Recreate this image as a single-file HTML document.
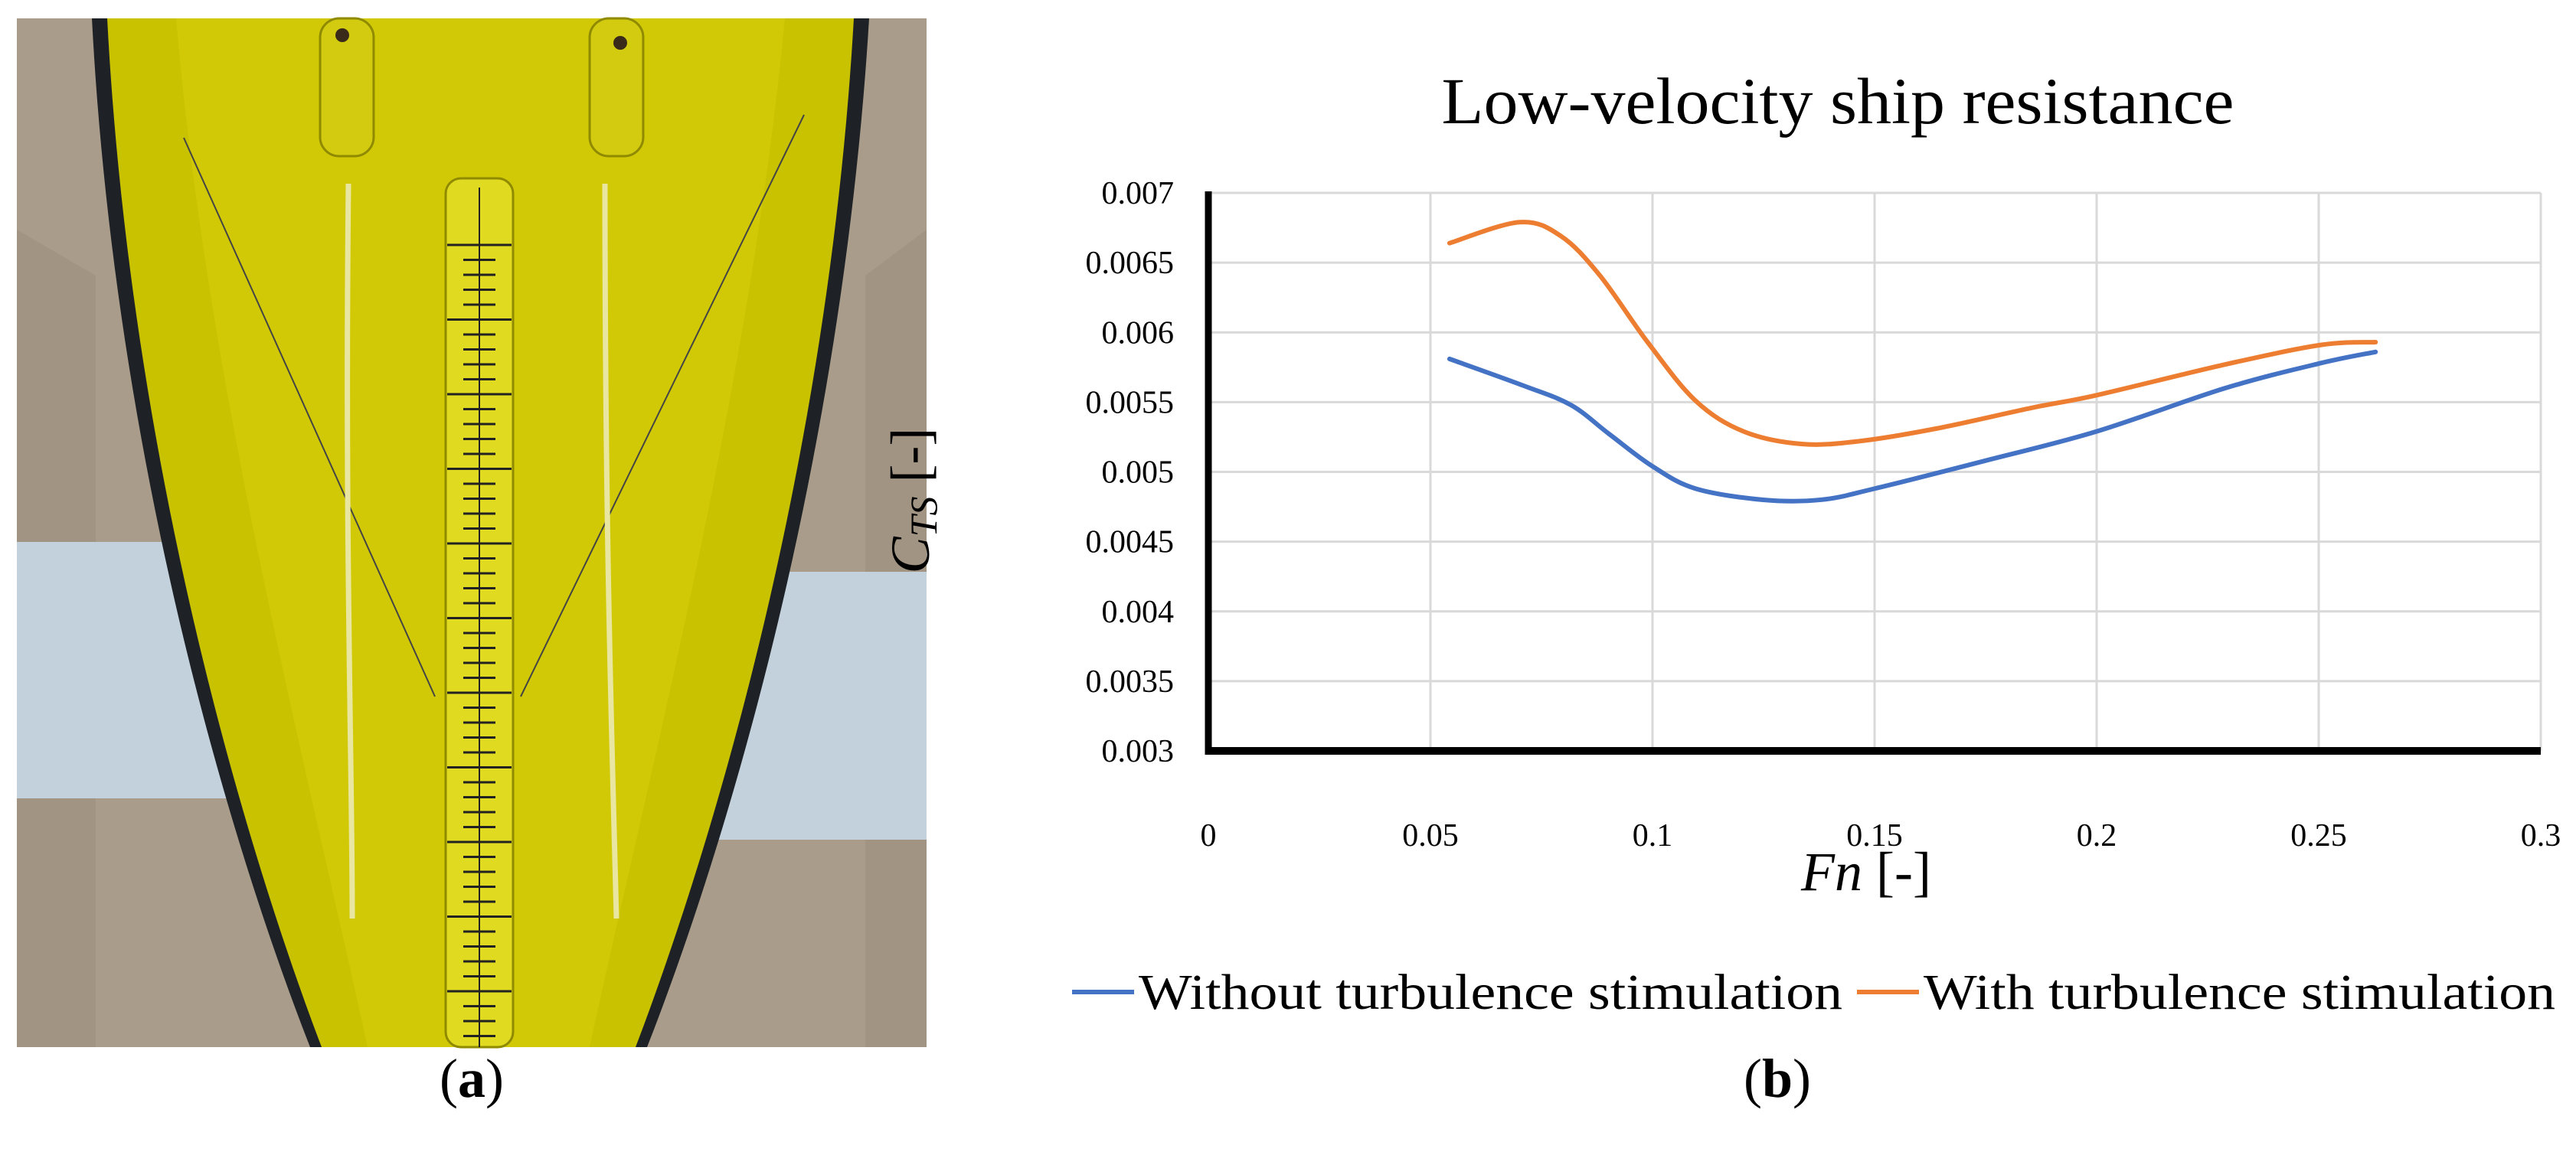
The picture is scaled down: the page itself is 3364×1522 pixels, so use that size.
<!DOCTYPE html>
<html><head><meta charset="utf-8">
<style>
html,body{margin:0;padding:0;background:#fff;}
svg{display:block;}
text{font-family:"Liberation Serif",serif;fill:#000;}
</style></head>
<body>
<svg width="3364" height="1522" viewBox="0 0 3364 1522" xmlns="http://www.w3.org/2000/svg">
<g>
  <rect x="22" y="24" width="1188" height="1344" fill="#a99c8a"/>
  <path d="M22 300 L125 360 L125 1368 L22 1368Z" fill="#9c8f7e" opacity="0.6"/>
  <path d="M1210 300 L1130 360 L1130 1368 L1210 1368Z" fill="#9c8f7e" opacity="0.6"/>
  <rect x="22" y="708" width="420" height="335" fill="#c3d1dd"/>
  <rect x="800" y="747" width="410" height="350" fill="#c3d1dd"/>
  <path d="M120 24 C150 600 300 1100 405 1368 L845 1368 C950 1100 1100 600 1135 24Z" fill="#1e2226"/>
  <path d="M140 24 C170 600 318 1100 420 1368 L830 1368 C932 1100 1082 600 1115 24Z" fill="#c8c200"/>
  <path d="M230 24 C270 500 400 1000 480 1368 L770 1368 C850 1000 980 500 1025 24Z" fill="#d4cc08" opacity="0.7"/>
  <path d="M240 180 L568 910 M1050 150 L680 910" stroke="#444" stroke-width="2" fill="none"/>
  <path d="M455 240 C450 700 460 1000 460 1200 M790 240 C790 700 800 1000 805 1200" stroke="#e8e6a0" stroke-width="7" fill="none"/>
  <rect x="418" y="24" width="70" height="180" rx="25" fill="#d2cb10" stroke="#8f8a00" stroke-width="3"/>
  <rect x="770" y="24" width="70" height="180" rx="25" fill="#d2cb10" stroke="#8f8a00" stroke-width="3"/>
  <circle cx="447" cy="46" r="9" fill="#3a2a1a"/><circle cx="810" cy="56" r="9" fill="#3a2a1a"/>
  <rect x="582" y="233" width="88" height="1135" rx="20" fill="#e0da20" stroke="#8f8a00" stroke-width="3"/>
  <g id="ruler-ticks"></g>
</g>
<text x="616" y="1433" font-size="72" text-anchor="middle">(<tspan font-weight="bold">a</tspan>)</text>

<g id="chart"></g>
<text x="2400" y="161" font-size="86" text-anchor="middle" textLength="1035" lengthAdjust="spacingAndGlyphs">Low-velocity ship resistance</text>
<text transform="translate(1213,654) rotate(-90)" font-size="72" text-anchor="middle"><tspan font-style="italic">C</tspan><tspan font-style="italic" font-size="50" dy="10">TS</tspan><tspan dy="-10"> [-]</tspan></text>
<text x="2437" y="1163" font-size="72" text-anchor="middle"><tspan font-style="italic">Fn</tspan> [-]</text>
<g>
  <line x1="1400" y1="1296" x2="1481" y2="1296" stroke="#4472c4" stroke-width="6"/>
  <text x="1487" y="1318" font-size="66" textLength="919" lengthAdjust="spacingAndGlyphs">Without turbulence stimulation</text>
  <line x1="2425" y1="1296" x2="2506" y2="1296" stroke="#ed7d31" stroke-width="6"/>
  <text x="2512" y="1318" font-size="66" textLength="825" lengthAdjust="spacingAndGlyphs">With turbulence stimulation</text>
</g>
<text x="2321" y="1433" font-size="72" text-anchor="middle">(<tspan font-weight="bold">b</tspan>)</text>
</svg>
<script>
const xTicks = [0, 0.05, 0.1, 0.15, 0.2, 0.25, 0.3];
const xTickLabels = ["0", "0.05", "0.1", "0.15", "0.2", "0.25", "0.3"];
const yTicks = [0.003, 0.0035, 0.004, 0.0045, 0.005, 0.0055, 0.006, 0.0065, 0.007];
const yTickLabels = ["0.003", "0.0035", "0.004", "0.0045", "0.005", "0.0055", "0.006", "0.0065", "0.007"];
const fnWithout = [0.0543, 0.0708, 0.0816, 0.0903, 0.1, 0.1097, 0.1249, 0.1379, 0.15, 0.1749, 0.2, 0.2289, 0.2505, 0.2628];
const ctsWithout = [0.00581, 0.00562, 0.00548, 0.00527, 0.00504, 0.00488, 0.00480, 0.00480, 0.00488, 0.00508, 0.00529, 0.00560, 0.00578, 0.00586];
const fnWith = [0.0543, 0.0701, 0.0794, 0.0881, 0.0989, 0.1097, 0.1205, 0.1335, 0.1465, 0.1638, 0.1855, 0.2, 0.2289, 0.2505, 0.2628];
const ctsWith = [0.00664, 0.00679, 0.00669, 0.00641, 0.00593, 0.00551, 0.00529, 0.00520, 0.00522, 0.00531, 0.00546, 0.00555, 0.00577, 0.00591, 0.00593];

const NS = "http://www.w3.org/2000/svg";
const X0 = 1578, X1 = 3318, Y0 = 981, Y1 = 252;
function sx(v){ return X0 + (v - 0) / 0.3 * (X1 - X0); }
function sy(v){ return Y0 - (v - 0.003) / 0.004 * (Y0 - Y1); }
const chart = document.getElementById('chart');
function mk(tag, attrs, parent){ const e = document.createElementNS(NS, tag); for (const k in attrs) e.setAttribute(k, attrs[k]); (parent||chart).appendChild(e); return e; }

yTicks.forEach((t, i) => {
  if (i > 0) {
    const g = mk('line', {x1: X0, x2: X1, y1: sy(t), y2: sy(t), stroke: '#d9d9d9', 'stroke-width': 3});
    
    
  }
  const l = mk('text', {x: 1533, y: sy(t) + 14, 'font-size': 42, 'text-anchor': 'end'});
  l.textContent = yTickLabels[i];
  
  
});
xTicks.forEach((t, i) => {
  if (i > 0) {
    const g = mk('line', {x1: sx(t), x2: sx(t), y1: Y1, y2: Y0, stroke: '#d9d9d9', 'stroke-width': 3});
    
    
  }
  const l = mk('text', {x: sx(t), y: 1105, 'font-size': 42, 'text-anchor': 'middle'});
  l.textContent = xTickLabels[i];
  
  
});
const ya = mk('line', {x1: X0, x2: X0, y1: Y1 - 2, y2: Y0 + 5, stroke: '#000', 'stroke-width': 9});


const xa = mk('line', {x1: X0 - 4, x2: X1, y1: Y0, y2: Y0, stroke: '#000', 'stroke-width': 10});



function smooth(xs, ys){
  const p = xs.map((x, i) => [sx(x), sy(ys[i])]);
  let d = 'M' + p[0][0] + ' ' + p[0][1];
  for (let i = 0; i < p.length - 1; i++) {
    const p0 = p[i-1] || p[i], p1 = p[i], p2 = p[i+1], p3 = p[i+2] || p2;
    const c1 = [p1[0] + (p2[0]-p0[0])/6, p1[1] + (p2[1]-p0[1])/6];
    const c2 = [p2[0] - (p3[0]-p1[0])/6, p2[1] - (p3[1]-p1[1])/6];
    d += ' C' + c1[0] + ' ' + c1[1] + ' ' + c2[0] + ' ' + c2[1] + ' ' + p2[0] + ' ' + p2[1];
  }
  return d;
}
const lw = mk('path', {d: smooth(fnWithout, ctsWithout), fill: 'none', stroke: '#4472c4', 'stroke-width': 6, 'stroke-linecap': 'round'});


const lt = mk('path', {d: smooth(fnWith, ctsWith), fill: 'none', stroke: '#ed7d31', 'stroke-width': 6, 'stroke-linecap': 'round'});



const rt = document.getElementById('ruler-ticks');
mk('line', {x1: 626, x2: 626, y1: 245, y2: 1368, stroke: '#222', 'stroke-width': 2}, rt);
for (let y = 320; y < 1368; y += 19.5) {
  const major = Math.round((y - 320) / 19.5) % 5 === 0;
  mk('line', {x1: major ? 584 : 605, x2: major ? 668 : 647, y1: y, y2: y, stroke: '#222', 'stroke-width': 3}, rt);
}
</script>
</body></html>
